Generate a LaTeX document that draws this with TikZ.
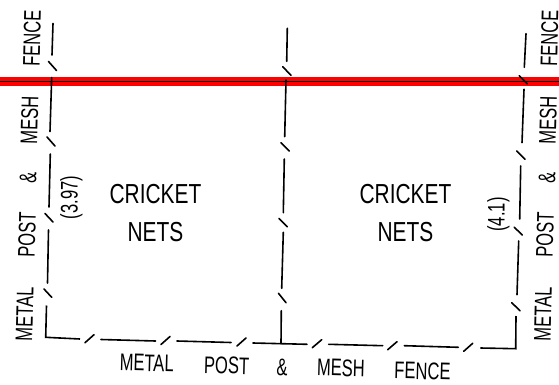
\documentclass[tikz,border=0pt]{standalone}
\usepackage{fontspec}
\setmainfont{Liberation Sans}
\newcommand{\cond}[2]{\scalebox{#1}[1]{#2}}
\tikzset{
  fence/.style={line width=1.6pt,black,line cap=round},
  lab/.style={inner sep=0pt,font=\fontsize{24}{24}\selectfont,text=black},
  big/.style={inner sep=0pt,font=\fontsize{27.5}{27.5}\selectfont,text=black}
}
\begin{document}
\begin{tikzpicture}[x=1pt,y=-1pt]
\useasboundingbox (0,0) rectangle (559,385);
% boundary band
\fill[red] (0,77.3) rectangle (559,85.7);
\fill[black] (0,80.8) rectangle (559,82);
% left fence
\draw[fence] (53,23.5)--(52,55);
\draw[fence] (48.5,61.5)--(56.5,70.5);
\draw[fence] (51.7,77.5)--(50,131.5);
\draw[fence] (47,137)--(55,146);
\draw[fence] (50.3,154)--(49,207);
\draw[fence] (45,213.5)--(53,222);
\draw[fence] (48.5,230)--(47.5,283);
\draw[fence] (44,289)--(51.7,297.3);
% corner and bottom fence
\draw[fence,line cap=butt,line join=miter] (46.5,305.5)--(45.7,337.3)--(80,339);
\draw[fence] (85,342.7)--(94,334.7);
\draw[fence] (101,339.5)--(155.5,341);
\draw[fence] (161,344.5)--(170,336.5);
\draw[fence] (177,341)--(231,342.5);
\draw[fence] (237,346)--(246,338);
\draw[fence] (253,343)--(307,344.3);
\draw[fence] (312.3,347.7)--(321.7,339.7);
\draw[fence] (328.7,344.3)--(382.7,345.7);
\draw[fence] (387.7,349.7)--(397,341.7);
\draw[fence] (404.3,345.7)--(458.3,347.3);
\draw[fence] (463.7,351.3)--(472.7,343.3);
% right fence
\draw[fence,line cap=butt,line join=miter] (480.3,348)--(515.7,348.7)--(516,316);
\draw[fence] (511.7,302.7)--(520,310.7);
\draw[fence] (517,294.7)--(518.7,241);
\draw[fence] (514.3,227.3)--(522.3,235);
\draw[fence] (519.7,219)--(520.7,166);
\draw[fence] (516.7,151)--(525,159.3);
\draw[fence] (522,142.7)--(524,89.3);
\draw[fence] (519.3,75.7)--(527.3,83.7);
\draw[fence] (524.3,67.3)--(526,33.7);
% middle fence
\draw[fence] (287.3,28.3)--(286.7,61.3);
\draw[fence] (282.7,66.7)--(291,75.3);
\draw[fence] (286,80)--(284.7,136.7);
\draw[fence] (281,142.7)--(289.3,151);
\draw[fence] (284.3,159)--(283.3,212.7);
\draw[fence] (279,218.5)--(287.3,226.7);
\draw[fence] (283.3,232.3)--(281.7,288.3);
\draw[fence] (278.5,293.3)--(286,302.7);
\draw[fence] (281.3,310.7)--(281,343.7);
% titles
\node[big] (c1) at (155.5,194) {\cond{.76}{CRICKET}};
\node[big] (n1) at (155.5,232) {\cond{.76}{NETS}};
\node[big] (c2) at (405.5,194) {\cond{.76}{CRICKET}};
\node[big] (n2) at (405.5,232) {\cond{.76}{NETS}};
% left labels
\node[lab,rotate=88.5] (lf) at (32,38.5) {\cond{.69}{FENCE}};
\node[lab,rotate=88.5] (lm) at (29.5,120) {\cond{.69}{MESH}};
\node[lab,rotate=88.5] (la) at (28,178) {\cond{.69}{\&}};
\node[lab,rotate=88.5] (lp) at (27,234.7) {\cond{.69}{POST}};
\node[lab,rotate=88.5] (ll) at (24.7,314) {\cond{.69}{METAL}};
% right labels
\node[lab,rotate=88.5] (rf) at (549.5,38) {\cond{.69}{FENCE}};
\node[lab,rotate=88.5] (rm) at (548,120) {\cond{.69}{MESH}};
\node[lab,rotate=88.5] (ra) at (547,178) {\cond{.69}{\&}};
\node[lab,rotate=88.5] (rp) at (545,234.7) {\cond{.69}{POST}};
\node[lab,rotate=88.5] (rl) at (543,314) {\cond{.69}{METAL}};
% bottom labels
\node[lab,rotate=-1.5] (bl) at (146.7,363) {\cond{.69}{METAL}};
\node[lab,rotate=-1.5] (bp) at (226.7,365.5) {\cond{.69}{POST}};
\node[lab,rotate=-1.5] (ba) at (282,367) {\cond{.69}{\&}};
\node[lab,rotate=-1.5] (bm) at (341,368) {\cond{.69}{MESH}};
\node[lab,rotate=-1.5] (bf) at (422.5,371) {\cond{.69}{FENCE}};
% dimensions
\node[lab,rotate=90] (d1) at (71.5,197.5) {\cond{.69}{(3.97)}};
\node[lab,rotate=90] (d2) at (498.5,214.5) {\cond{.69}{(4.1)}};
\end{tikzpicture}
\end{document}
